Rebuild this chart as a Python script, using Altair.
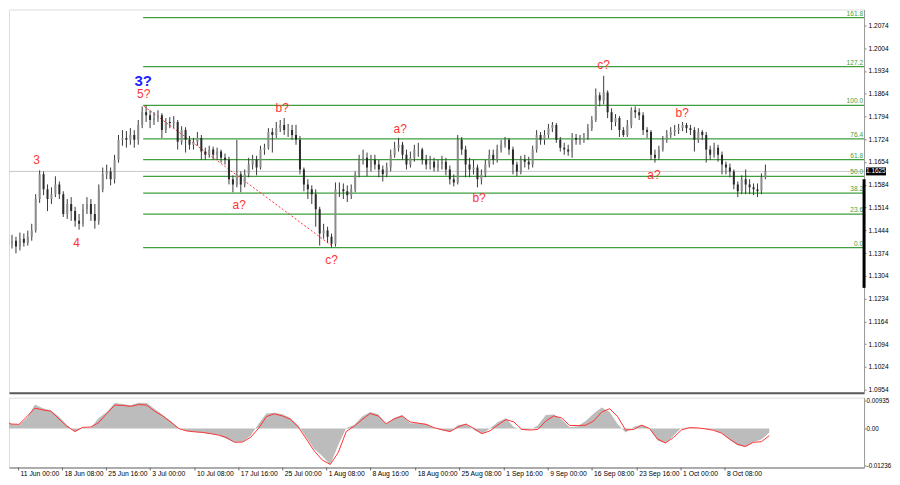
import altair as alt
import pandas as pd

FONT = "Liberation Sans"

# ---------------- price data (EUR/USD) ----------------
open0 = 1.1418
close = [
    1.1403, 1.1412, 1.1394, 1.1418, 1.1406, 1.1424, 1.1443, 1.1540, 1.1616, 1.1570,
    1.1540, 1.1555, 1.1585, 1.1555, 1.1494, 1.1525, 1.1503, 1.1473, 1.1464, 1.1509,
    1.1525, 1.1494, 1.1473, 1.1570, 1.1616, 1.1625, 1.1601, 1.1661, 1.1722, 1.1728,
    1.1722, 1.1737, 1.1722, 1.1768, 1.1807, 1.1798, 1.1783, 1.1789, 1.1798, 1.1752,
    1.1777, 1.1774, 1.1777, 1.1716, 1.1752, 1.1722, 1.1707, 1.1716, 1.1728, 1.1686,
    1.1676, 1.1692, 1.1676, 1.1686, 1.1667, 1.1661, 1.1601, 1.1585, 1.1616, 1.1585,
    1.1616, 1.1646, 1.1661, 1.1637, 1.1692, 1.1698, 1.1746, 1.1737, 1.1758, 1.1768,
    1.1752, 1.1752, 1.1737, 1.1722, 1.1631, 1.1585, 1.1570, 1.1555, 1.1509, 1.1434,
    1.1443, 1.1424, 1.1403, 1.1570, 1.1570, 1.1564, 1.1552, 1.1570, 1.1616, 1.1661,
    1.1667, 1.1637, 1.1661, 1.1646, 1.1631, 1.1616, 1.1637, 1.1676, 1.1698, 1.1707,
    1.1676, 1.1646, 1.1667, 1.1692, 1.1692, 1.1661, 1.1646, 1.1655, 1.1637, 1.1646,
    1.1655, 1.1631, 1.1601, 1.1591, 1.1722, 1.1692, 1.1646, 1.1631, 1.1637, 1.1601,
    1.1616, 1.1646, 1.1676, 1.1661, 1.1692, 1.1707, 1.1722, 1.1692, 1.1646, 1.1625,
    1.1661, 1.1655, 1.1646, 1.1692, 1.1737, 1.1722, 1.1737, 1.1758, 1.1768, 1.1722,
    1.1698, 1.1692, 1.1686, 1.1728, 1.1722, 1.1722, 1.1728, 1.1758, 1.1783, 1.1859,
    1.1843, 1.1868, 1.1807, 1.1777, 1.1789, 1.1752, 1.1737, 1.1768, 1.1813, 1.1807,
    1.1798, 1.1752, 1.1746, 1.1676, 1.1667, 1.1692, 1.1722, 1.1737, 1.1746, 1.1752,
    1.1758, 1.1768, 1.1758, 1.1752, 1.1722, 1.1746, 1.1737, 1.1692, 1.1676, 1.1698,
    1.1676, 1.1646, 1.1637, 1.1625, 1.1585, 1.1564, 1.1601, 1.1585, 1.1576, 1.1570,
    1.1564, 1.1607, 1.1625,
]
high = [
    1.1427, 1.1430, 1.1424, 1.1437, 1.1434, 1.1443, 1.1464, 1.1555, 1.1628, 1.1625,
    1.1585, 1.1576, 1.1610, 1.1594, 1.1564, 1.1540, 1.1546, 1.1516, 1.1494, 1.1525,
    1.1546, 1.1540, 1.1525, 1.1585, 1.1637, 1.1646, 1.1637, 1.1676, 1.1737, 1.1752,
    1.1749, 1.1758, 1.1752, 1.1783, 1.1825, 1.1828, 1.1813, 1.1807, 1.1813, 1.1804,
    1.1789, 1.1792, 1.1795, 1.1783, 1.1764, 1.1761, 1.1734, 1.1728, 1.1746, 1.1737,
    1.1698, 1.1704, 1.1701, 1.1698, 1.1692, 1.1680, 1.1670, 1.1613, 1.1722, 1.1625,
    1.1631, 1.1667, 1.1676, 1.1673, 1.1704, 1.1710, 1.1758, 1.1758, 1.1777, 1.1783,
    1.1789, 1.1771, 1.1768, 1.1768, 1.1734, 1.1637, 1.1601, 1.1582, 1.1570, 1.1516,
    1.1464, 1.1455, 1.1434, 1.1591, 1.1591, 1.1588, 1.1582, 1.1585, 1.1625, 1.1676,
    1.1692, 1.1683, 1.1676, 1.1676, 1.1661, 1.1643, 1.1652, 1.1692, 1.1716, 1.1728,
    1.1716, 1.1692, 1.1686, 1.1707, 1.1713, 1.1698, 1.1676, 1.1673, 1.1667, 1.1661,
    1.1673, 1.1667, 1.1643, 1.1616, 1.1737, 1.1731, 1.1704, 1.1667, 1.1661, 1.1646,
    1.1631, 1.1661, 1.1692, 1.1692, 1.1707, 1.1722, 1.1731, 1.1728, 1.1701, 1.1655,
    1.1673, 1.1676, 1.1670, 1.1704, 1.1752, 1.1746, 1.1752, 1.1771, 1.1777, 1.1774,
    1.1731, 1.1713, 1.1707, 1.1743, 1.1740, 1.1737, 1.1743, 1.1771, 1.1795, 1.1880,
    1.1868, 1.1919, 1.1874, 1.1819, 1.1801, 1.1795, 1.1761, 1.1783, 1.1822, 1.1825,
    1.1819, 1.1807, 1.1761, 1.1752, 1.1692, 1.1704, 1.1734, 1.1752, 1.1761, 1.1768,
    1.1771, 1.1777, 1.1774, 1.1768, 1.1761, 1.1758, 1.1752, 1.1746, 1.1704, 1.1713,
    1.1707, 1.1686, 1.1655, 1.1649, 1.1631, 1.1594, 1.1613, 1.1631, 1.1601, 1.1588,
    1.1588, 1.1619, 1.1646,
]
low = [
    1.1388, 1.1388, 1.1373, 1.1382, 1.1394, 1.1397, 1.1412, 1.1437, 1.1528, 1.1552,
    1.1503, 1.1525, 1.1546, 1.1540, 1.1485, 1.1479, 1.1473, 1.1455, 1.1446, 1.1455,
    1.1494, 1.1473, 1.1449, 1.1461, 1.1561, 1.1601, 1.1582, 1.1588, 1.1652, 1.1704,
    1.1698, 1.1707, 1.1698, 1.1707, 1.1758, 1.1777, 1.1758, 1.1768, 1.1777, 1.1728,
    1.1743, 1.1758, 1.1758, 1.1692, 1.1707, 1.1683, 1.1692, 1.1692, 1.1704, 1.1661,
    1.1661, 1.1667, 1.1661, 1.1661, 1.1652, 1.1646, 1.1585, 1.1561, 1.1576, 1.1561,
    1.1576, 1.1607, 1.1631, 1.1613, 1.1631, 1.1676, 1.1692, 1.1683, 1.1728, 1.1746,
    1.1737, 1.1731, 1.1722, 1.1707, 1.1616, 1.1564, 1.1540, 1.1525, 1.1455, 1.1397,
    1.1418, 1.1406, 1.1391, 1.1394, 1.1546, 1.1540, 1.1531, 1.1540, 1.1561, 1.1607,
    1.1646, 1.1610, 1.1625, 1.1631, 1.1607, 1.1594, 1.1607, 1.1625, 1.1667, 1.1686,
    1.1661, 1.1631, 1.1637, 1.1655, 1.1670, 1.1646, 1.1631, 1.1631, 1.1625, 1.1625,
    1.1631, 1.1613, 1.1585, 1.1579, 1.1585, 1.1676, 1.1607, 1.1607, 1.1616, 1.1576,
    1.1585, 1.1607, 1.1637, 1.1646, 1.1652, 1.1683, 1.1698, 1.1676, 1.1616, 1.1610,
    1.1616, 1.1637, 1.1631, 1.1637, 1.1683, 1.1707, 1.1707, 1.1728, 1.1746, 1.1713,
    1.1686, 1.1676, 1.1673, 1.1667, 1.1707, 1.1707, 1.1713, 1.1722, 1.1749, 1.1777,
    1.1825, 1.1831, 1.1789, 1.1752, 1.1764, 1.1731, 1.1731, 1.1731, 1.1758, 1.1789,
    1.1783, 1.1737, 1.1728, 1.1661, 1.1652, 1.1661, 1.1686, 1.1713, 1.1728, 1.1734,
    1.1740, 1.1749, 1.1743, 1.1737, 1.1686, 1.1713, 1.1722, 1.1652, 1.1661, 1.1667,
    1.1655, 1.1616, 1.1616, 1.1607, 1.1570, 1.1546, 1.1555, 1.1555, 1.1555, 1.1552,
    1.1546, 1.1555, 1.1601,
]

# ---------------- MACD (every second bar) ----------------
macd = [
    0.0028, 0.0015, 0.0013, 0.0035, 0.0080, 0.0068, 0.0060, 0.0040, 0.0012, -0.0012,
    0.0002, 0.0003, 0.0035, 0.0055, 0.0085, 0.0082, 0.0078, 0.0086, 0.0085, 0.0065,
    0.0045, 0.0025, 0.0003, -0.0008, -0.0012, -0.0014, -0.0018, -0.0022, -0.0035, -0.0045,
    -0.0044, -0.0025, 0.0015, 0.0050, 0.0053, 0.0048, 0.0035, 0.0010, -0.0030, -0.0068,
    -0.0092, -0.0121, -0.0055, 0.0002, 0.0012, 0.0040, 0.0055, 0.0048, 0.0015, 0.0035,
    0.0045, 0.0018, 0.0018, 0.0016, 0.0002, -0.0006, -0.0012, 0.0012, 0.0015, -0.0005,
    -0.0018, 0.0000, 0.0022, 0.0034, 0.0005, -0.0004, -0.0004, 0.0010, 0.0045, 0.0047,
    0.0030, 0.0004, 0.0008, 0.0025, 0.0050, 0.0070, 0.0055, 0.0015, -0.0013, 0.0005,
    0.0013, 0.0000, -0.0040, -0.0049, -0.0024, 0.0003, 0.0003, 0.0002, -0.0002, -0.0004,
    -0.0015, -0.0037, -0.0056, -0.0062, -0.0045, -0.0037, -0.0013,
]
signal = [
    0.0030, 0.0015, 0.0014, 0.0040, 0.0068, 0.0062, 0.0058, 0.0032, 0.0008, -0.0010,
    0.0004, 0.0005, 0.0020, 0.0050, 0.0078, 0.0077, 0.0074, 0.0080, 0.0078, 0.0058,
    0.0042, 0.0022, 0.0000, -0.0008, -0.0011, -0.0013, -0.0017, -0.0022, -0.0030, -0.0046,
    -0.0045, -0.0030, 0.0000, 0.0040, 0.0049, 0.0042, 0.0031, 0.0005, -0.0035, -0.0075,
    -0.0105, -0.0120, -0.0080, -0.0010, 0.0008, 0.0030, 0.0050, 0.0042, 0.0016, 0.0032,
    0.0042, 0.0022, 0.0018, 0.0014, 0.0003, -0.0004, -0.0010, 0.0005, 0.0015, 0.0000,
    -0.0017, -0.0008, 0.0012, 0.0030, 0.0022, -0.0003, -0.0005, -0.0003, 0.0025, 0.0042,
    0.0035, 0.0010, 0.0010, 0.0011, 0.0025, 0.0055, 0.0066, 0.0040, -0.0005, -0.0003,
    0.0011, 0.0000, -0.0035, -0.0048, -0.0030, -0.0005, 0.0003, 0.0002, -0.0001, -0.0006,
    -0.0015, -0.0035, -0.0052, -0.0060, -0.0046, -0.0044, -0.0024,
]

# ---------------- Fibonacci grid ----------------
fib_labels = ["0.0", "23.6", "38.2", "50.0", "61.8", "76.4", "100.0", "127.2", "161.8"]
fib_prices = [1.1391, 1.1494, 1.1558, 1.1610, 1.1661, 1.1725, 1.1828, 1.1947, 1.2098]
fib_start = 34.25          # bar of the "5?" high

last_price = 1.1625

# dashed red trend line: from the 5? high to the c? low
trend_bars = [34.5, 82.0]
trend_prices = [1.1825, 1.1397]

# wave labels
wave_text = ["5?", "3", "4", "a?", "b?", "c?", "a?", "b?", "c?", "a?", "b?"]
wave_bar = [34.4, 7.25, 17.4, 58.6, 69.5, 82.0, 99.4, 119.4, 151.0, 163.75, 170.9]
wave_price = [1.1862, 1.1661, 1.1406, 1.1522, 1.1821, 1.1352, 1.1755, 1.1543, 1.1953, 1.1613, 1.1805]
major_text = ["3?"]
major_bar = [34.25]
major_price = [1.1904]

# price-axis highlight segment
seg_top, seg_bottom = 1.1601, 1.1267

# axes
price_ticks = [1.2074, 1.2004, 1.1934, 1.1864, 1.1794, 1.1724, 1.1654, 1.1584, 1.1514,
               1.1444, 1.1374, 1.1304, 1.1234, 1.1164, 1.1094, 1.1024, 1.0954]
macd_ticks = [0.00935, 0.0, -0.01236]
date_bar = [3.9, 14.9, 25.9, 36.9, 48.1, 59.1, 70.1, 81.1, 92.1, 103.4, 114.4,
            125.6, 136.6, 147.6, 158.9, 169.9, 180.9]
date_labels = ["11 Jun 00:00", "18 Jun 08:00", "25 Jun 16:00", "3 Jul 00:00", "10 Jul 08:00",
               "17 Jul 16:00", "25 Jul 00:00", "1 Aug 08:00", "8 Aug 16:00", "18 Aug 00:00",
               "25 Aug 08:00", "1 Sep 16:00", "9 Sep 00:00", "16 Sep 08:00", "23 Sep 16:00",
               "1 Oct 00:00", "8 Oct 08:00"]

# ---------------- tables ----------------
opens = [open0] + close[:-1]
candles = pd.DataFrame({
    "i": list(range(len(close))),
    "open": opens, "close": close, "high": high, "low": low,
})
candles["dir"] = ["up" if c >= o else "down" for o, c in zip(opens, close)]

macd_df = pd.DataFrame({
    "i": [2 * k for k in range(len(macd))],
    "macd": macd, "signal": signal, "zero": [0.0] * len(macd),
})
fib_df = pd.DataFrame({"label": fib_labels, "price": fib_prices, "start": [fib_start] * len(fib_prices)})
last_df = pd.DataFrame({"price": [last_price], "txt": [f"{last_price:.4f}"]})
trend_df = pd.DataFrame({"x1": [trend_bars[0]], "x2": [trend_bars[1]],
                         "y1": [trend_prices[0]], "y2": [trend_prices[1]]})
wave_df = pd.DataFrame({"t": wave_text, "x": wave_bar, "y": wave_price})
major_df = pd.DataFrame({"t": major_text, "x": major_bar, "y": major_price})
seg_df = pd.DataFrame({"a": [seg_top], "b": [seg_bottom]})
date_df = pd.DataFrame({"t": date_bar, "label": date_labels})

# ---------------- scales & axes ----------------
W = 857
H_MAIN = 384
H_MACD = 70
xs = alt.Scale(domain=[1.5, 1.5 + W / 4], nice=False, zero=False)
ys = alt.Scale(domain=[1.09448, 1.21227], nice=False, zero=False)
ms = alt.Scale(domain=[-0.0130, 0.0103], nice=False, zero=False)

x_axis_main = alt.Axis(labels=False, ticks=False, grid=False, title=None,
                       domainColor="#5a5a5a", domainWidth=2)
x_axis_macd = alt.Axis(labels=False, ticks=False, grid=False, title=None,
                       domainColor="#6a6a6a", domainWidth=1)
y_axis_main = alt.Axis(orient="right", values=price_ticks, labelExpr="format(datum.value, '.4f')",
                       grid=False, title=None, tickSize=2, tickColor="#8a8a8a",
                       domainColor="#9a9a9a", labelFontSize=6.6, labelColor="#000000",
                       labelPadding=2, labelFont=FONT, labelFlush=False, labelOverlap=False)
y_axis_macd = alt.Axis(orient="right", values=macd_ticks,
                       labelExpr="datum.value == 0 ? '0.00' : toString(datum.value)",
                       grid=False, title=None, tickSize=2, tickColor="#8a8a8a",
                       domainColor="#9a9a9a", labelFontSize=6.3, labelColor="#000000",
                       labelPadding=0, labelFont=FONT, labelFlush=False, labelOverlap=False)


def X(f):
    return alt.X(f, type="quantitative", scale=xs, axis=x_axis_main)


def Y(f):
    return alt.Y(f, type="quantitative", scale=ys, axis=y_axis_main)


def XM(f):
    return alt.X(f, type="quantitative", scale=xs, axis=x_axis_macd)


def YM(f):
    return alt.Y(f, type="quantitative", scale=ms, axis=y_axis_macd)


GREEN = "#3f9f3f"
RED = "#ff3333"

fib_rules = alt.Chart(fib_df).mark_rule(color=GREEN, strokeWidth=1.2, clip=True).encode(
    x=X("start"), x2=alt.value(W), y=Y("price"))
fib_text = alt.Chart(fib_df).mark_text(align="right", baseline="bottom", dy=-1, fontSize=6.6,
                                       font=FONT, color=GREEN).encode(
    x=alt.value(W - 1), y=Y("price"), text="label:N")
last_line = alt.Chart(last_df).mark_rule(color="#c8c8c8", strokeWidth=1).encode(
    x=alt.value(0), x2=alt.value(W), y=Y("price"))
trend = alt.Chart(trend_df).mark_rule(color=RED, strokeWidth=1, strokeDash=[2, 2], clip=True).encode(
    x=X("x1"), x2="x2:Q", y=Y("y1"), y2="y2:Q")
wicks = alt.Chart(candles).mark_rule(color="#3a3a3a", strokeWidth=1, clip=True).encode(
    x=X("i"), y=Y("low"), y2="high:Q")
bodies = alt.Chart(candles).mark_bar(size=2, clip=True).encode(
    x=X("i"), y=Y("open"), y2="close:Q",
    color=alt.Color("dir:N", scale=alt.Scale(domain=["up", "down"], range=["#8c8c8c", "#2b2b2b"]),
                    legend=None))
waves = alt.Chart(wave_df).mark_text(fontSize=12, font=FONT, color=RED, baseline="middle").encode(
    x=X("x"), y=Y("y"), text="t:N")
major = alt.Chart(major_df).mark_text(fontSize=15, font=FONT, fontWeight="bold", color="#2323ff",
                                      baseline="middle").encode(
    x=X("x"), y=Y("y"), text="t:N")
box = alt.Chart(last_df).mark_rule(color="#000000", strokeWidth=8).encode(
    x=alt.value(W + 2), x2=alt.value(W + 22), y=Y("price"))
box_text = alt.Chart(last_df).mark_text(color="#ffffff", fontSize=6.4, font=FONT, align="left",
                                        baseline="middle").encode(
    x=alt.value(W + 2), y=Y("price"), text="txt:N")
seg = alt.Chart(seg_df).mark_rule(color="#000000", strokeWidth=3).encode(
    x=alt.value(W), y=Y("a"), y2="b:Q")

main = alt.layer(fib_rules, last_line, trend, wicks, bodies, fib_text, waves, major,
                 seg, box, box_text).properties(width=W, height=H_MAIN)

hist = alt.Chart(macd_df).mark_area(color="#bcbcbc", clip=True).encode(
    x=XM("i"), y=YM("macd"), y2="zero:Q")
sig = alt.Chart(macd_df).mark_line(color=RED, strokeWidth=1, clip=True).encode(
    x=XM("i"), y=YM("signal"))
dticks = alt.Chart(date_df).mark_rule(color="#6a6a6a").encode(
    x=XM("t"), y=alt.value(H_MACD), y2=alt.value(H_MACD + 3))
dtext = alt.Chart(date_df).mark_text(align="left", baseline="middle", dx=2, fontSize=6.8, font=FONT,
                                     color="#000000").encode(
    x=XM("t"), y=alt.value(H_MACD + 7), text="label:N")

lower = alt.layer(hist, sig, dticks, dtext).properties(width=W, height=H_MACD)

chart = alt.vconcat(main, lower, spacing=2).resolve_scale(
    x="independent", y="independent", color="independent"
).properties(padding=0).configure_view(strokeWidth=0).configure(background="#ffffff")

chart.save("out.html", embed_options={"renderer": "svg", "actions": False})
